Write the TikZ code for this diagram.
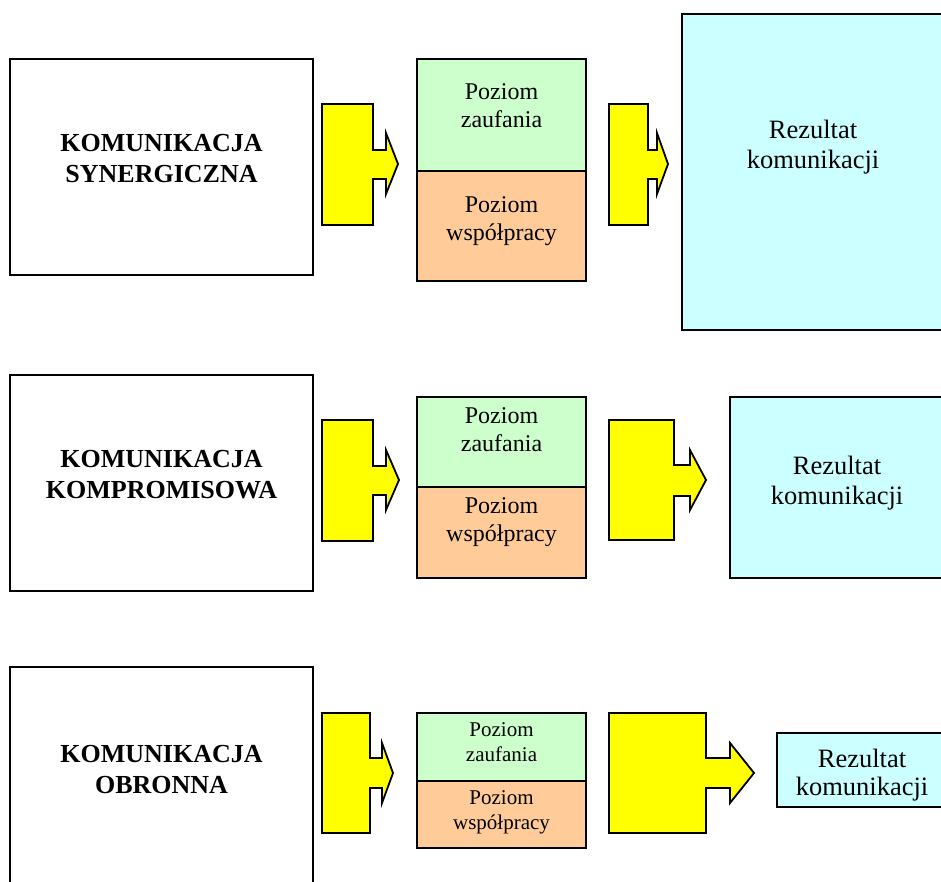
\documentclass[tikz,border=0pt]{standalone}
\usepackage{fontspec}
\setmainfont{Liberation Serif}
\definecolor{cgreen}{HTML}{CCFFCC}
\definecolor{corange}{HTML}{FFCC99}
\definecolor{ccyan}{HTML}{CCFFFF}
\definecolor{cyellow}{HTML}{FFFF00}
\tikzset{
  box/.style={draw=black, line width=1.8pt, inner sep=0pt, outer sep=0pt, anchor=north west},
  whitebox/.style={box, fill=white},
  greenbox/.style={box, fill=cgreen},
  orangebox/.style={box, fill=corange},
  cyanbox/.style={box, fill=ccyan},
  blockarrow/.style={draw=black, line width=1.8pt, fill=cyellow, line join=miter},
  titletext/.style={anchor=base, align=center, inner sep=0pt, font=\fontsize{26}{31}\selectfont\bfseries},
  midtext/.style={anchor=base, align=center, inner sep=0pt, font=\fontsize{24}{28}\selectfont},
  smalltext/.style={anchor=base, align=center, inner sep=0pt, font=\fontsize{21}{25}\selectfont},
  restext/.style={anchor=base, align=center, inner sep=0pt, font=\fontsize{26.5}{30}\selectfont},
}
\begin{document}
\begin{tikzpicture}[x=1pt, y=-1pt]
\useasboundingbox (0,0) rectangle (941,882);
\clip (0,0) rectangle (941,882);
\fill[white] (0,0) rectangle (941,882);
% ---------- Row 1 ----------
\node[whitebox, minimum width=303pt, minimum height=216pt] (l1) at (10,59) {};
\node[titletext] (t1) at (161.5,183) {KOMUNIKACJA\\SYNERGICZNA};
\draw[blockarrow] (322,104) -- (373,104) -- (373,150) -- (386,150) -- (386,133) -- (398,164) -- (386,194) -- (386,179) -- (373,179) -- (373,225) -- (322,225) -- cycle;
\node[greenbox, minimum width=169pt, minimum height=112pt] (z1) at (417,59) {};
\node[orangebox, minimum width=169pt, minimum height=110pt] (w1) at (417,171) {};
\node[midtext] (zt1) at (501.5,128) {Poziom\\zaufania};
\node[midtext] (wt1) at (501.5,241) {Poziom\\współpracy};
\draw[blockarrow] (609,104) -- (648,104) -- (648,150) -- (657,150) -- (657,133) -- (668,164) -- (657,194) -- (657,179) -- (648,179) -- (648,225) -- (609,225) -- cycle;
\node[cyanbox, minimum width=263pt, minimum height=316pt] (r1) at (682,14) {};
\node[restext] (rt1) at (813,169) {Rezultat\\komunikacji};
% ---------- Row 2 ----------
\node[whitebox, minimum width=303pt, minimum height=216pt] (l2) at (10,375) {};
\node[titletext] (t2) at (161.5,498) {KOMUNIKACJA\\KOMPROMISOWA};
\draw[blockarrow] (322,420) -- (373,420) -- (373,466) -- (386,466) -- (386,450) -- (399,480) -- (386,510) -- (386,495) -- (373,495) -- (373,541) -- (322,541) -- cycle;
\node[greenbox, minimum width=169pt, minimum height=90pt] (z2) at (417,397) {};
\node[orangebox, minimum width=169pt, minimum height=91pt] (w2) at (417,487) {};
\node[midtext] (zt2) at (501.5,451) {Poziom\\zaufania};
\node[midtext] (wt2) at (501.5,541) {Poziom\\współpracy};
\draw[blockarrow] (609,420) -- (674,420) -- (674,465) -- (690,465) -- (690,450) -- (706,480) -- (690,510) -- (690,496) -- (674,496) -- (674,540) -- (609,540) -- cycle;
\node[cyanbox, minimum width=215pt, minimum height=181pt] (r2) at (730,397) {};
\node[restext] (rt2) at (837,504) {Rezultat\\komunikacji};
% ---------- Row 3 ----------
\node[whitebox, minimum width=303pt, minimum height=240pt] (l3) at (10,667) {};
\node[titletext] (t3) at (161.5,793) {KOMUNIKACJA\\OBRONNA};
\draw[blockarrow] (322,713) -- (370,713) -- (370,758) -- (382,758) -- (382,743) -- (393,773) -- (382,803) -- (382,788) -- (370,788) -- (370,833) -- (322,833) -- cycle;
\node[greenbox, minimum width=169pt, minimum height=68pt] (z3) at (417,713) {};
\node[orangebox, minimum width=169pt, minimum height=67pt] (w3) at (417,781) {};
\node[smalltext] (zt3) at (501.5,761) {Poziom\\zaufania};
\node[smalltext] (wt3) at (501.5,829) {Poziom\\współpracy};
\draw[blockarrow] (609,713) -- (706,713) -- (706,758) -- (730,758) -- (730,743) -- (754,773) -- (730,803) -- (730,788) -- (706,788) -- (706,833) -- (609,833) -- cycle;
\node[cyanbox, minimum width=168pt, minimum height=74pt] (r3) at (777,733) {};
\node[restext, font=\fontsize{26.5}{28}\selectfont] (rt3) at (862,795) {Rezultat\\komunikacji};
\end{tikzpicture}
\end{document}
